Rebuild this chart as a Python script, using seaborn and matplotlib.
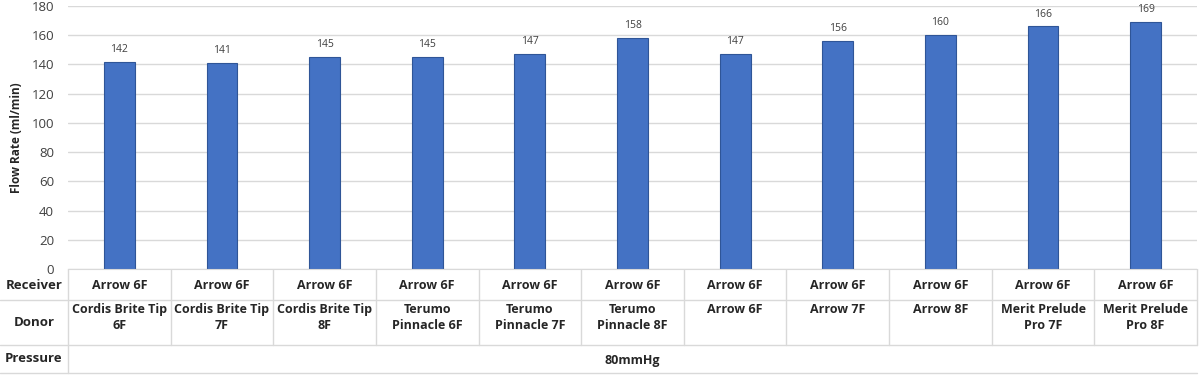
import matplotlib
matplotlib.use("Agg")
import matplotlib.pyplot as plt
import seaborn as sns
import pandas as pd

# ─────────────────────────────────────────────
# DATA
# ─────────────────────────────────────────────
receivers = ["Arrow 6F"] * 11
donors = ["Cordis Brite Tip 6F", "Cordis Brite Tip 7F", "Cordis Brite Tip 8F",
          "Terumo Pinnacle 6F", "Terumo Pinnacle 7F", "Terumo Pinnacle 8F",
          "Arrow 6F", "Arrow 7F", "Arrow 8F",
          "Merit Prelude Pro 7F", "Merit Prelude Pro 8F"]
donor_labels = ["Cordis Brite Tip\n6F", "Cordis Brite Tip\n7F", "Cordis Brite Tip\n8F",
                "Terumo\nPinnacle 6F", "Terumo\nPinnacle 7F", "Terumo\nPinnacle 8F",
                "Arrow 6F", "Arrow 7F", "Arrow 8F",
                "Merit Prelude\nPro 7F", "Merit Prelude\nPro 8F"]
flow = [142, 141, 145, 145, 147, 158, 147, 156, 160, 166, 169]
pressure = "80mmHg"
row_names = ["Receiver", "Donor", "Pressure"]

df = pd.DataFrame({"donor": donors, "flow": flow})

# ─────────────────────────────────────────────
# STYLE
# ─────────────────────────────────────────────
sns.set_style("white")
plt.rcParams["font.family"] = ["Open Sans", "DejaVu Sans"]

W, H = 1200, 376
fig = plt.figure(figsize=(W / 100, H / 100), dpi=100)

# pixel layout
px_left, px_right, px_top, px_base = 68, 1197, 6, 269
row_lines = [300, 345, 373]
grid_c = "#d9d9d9"
text_c = "#262626"

ax = fig.add_axes([px_left / W, 1 - px_base / H,
                   (px_right - px_left) / W, (px_base - px_top) / H])

sns.barplot(data=df, x="donor", y="flow", order=donors, color="#4472C4",
            saturation=1, width=0.3, edgecolor="#2F5597", linewidth=0.8, ax=ax)
ax.bar_label(ax.containers[0], padding=5, fontsize=7.5, color="#404040")

ax.set_xlim(-0.5, len(donors) - 0.5)
ax.set_ylim(0, 180)
ax.set_yticks(range(0, 181, 20))
ax.tick_params(axis="y", labelsize=9.5, colors="#404040", length=0, pad=10)
ax.set_xticks([])
ax.set_xlabel("")
ax.set_ylabel("Flow Rate (ml/min)", fontsize=8.5, fontweight="bold",
              color=text_c, labelpad=6)
ax.yaxis.grid(True, color=grid_c, lw=1)
ax.set_axisbelow(True)
for s in ["top", "right", "left"]:
    ax.spines[s].set_visible(False)
ax.spines["bottom"].set_color(grid_c)

# ─────────────────────────────────────────────
# DATA TABLE UNDER THE CHART
# ─────────────────────────────────────────────
unit = (px_right - px_left) / len(donors)
tab = fig.add_axes([0, 0, 1, (H - px_base) / H])
tab.set_xlim(-0.5 - px_left / unit, len(donors) - 0.5 + (W - px_right) / unit)
tab.set_ylim(H, px_base)
tab.axis("off")

x_end = len(donors) - 0.5
x_start = tab.get_xlim()[0]
for y in row_lines:
    tab.plot([x_start, x_end], [y, y], color=grid_c, lw=1)
for i in range(len(donors) + 1):
    tab.plot([i - 0.5, i - 0.5], [px_base, row_lines[1]], color=grid_c, lw=1)
tab.plot([-0.5, -0.5], [row_lines[1], row_lines[2]], color=grid_c, lw=1)

label_x = (x_start + (-0.5)) / 2
tab.text(label_x, (px_base + row_lines[0]) / 2 + 1, row_names[0], ha="center",
         va="center", fontsize=9.5, fontweight="bold", color=text_c)
tab.text(label_x, (row_lines[0] + row_lines[1]) / 2, row_names[1], ha="center",
         va="center", fontsize=9.5, fontweight="bold", color=text_c)
tab.text(label_x, (row_lines[1] + row_lines[2]) / 2, row_names[2], ha="center",
         va="center", fontsize=9.5, fontweight="bold", color=text_c)

for i, (r, d) in enumerate(zip(receivers, donor_labels)):
    tab.text(i, (px_base + row_lines[0]) / 2 + 1, r, ha="center", va="center",
             fontsize=9, fontweight="bold", color=text_c)
    tab.text(i, row_lines[0] + 3, d, ha="center", va="top", fontsize=9,
             fontweight="bold", color=text_c, linespacing=1.3)

tab.text((len(donors) - 1) / 2, (row_lines[1] + row_lines[2]) / 2 + 2, pressure,
         ha="center", va="center", fontsize=9, fontweight="bold", color=text_c)

fig.savefig("out.png", dpi=100)
